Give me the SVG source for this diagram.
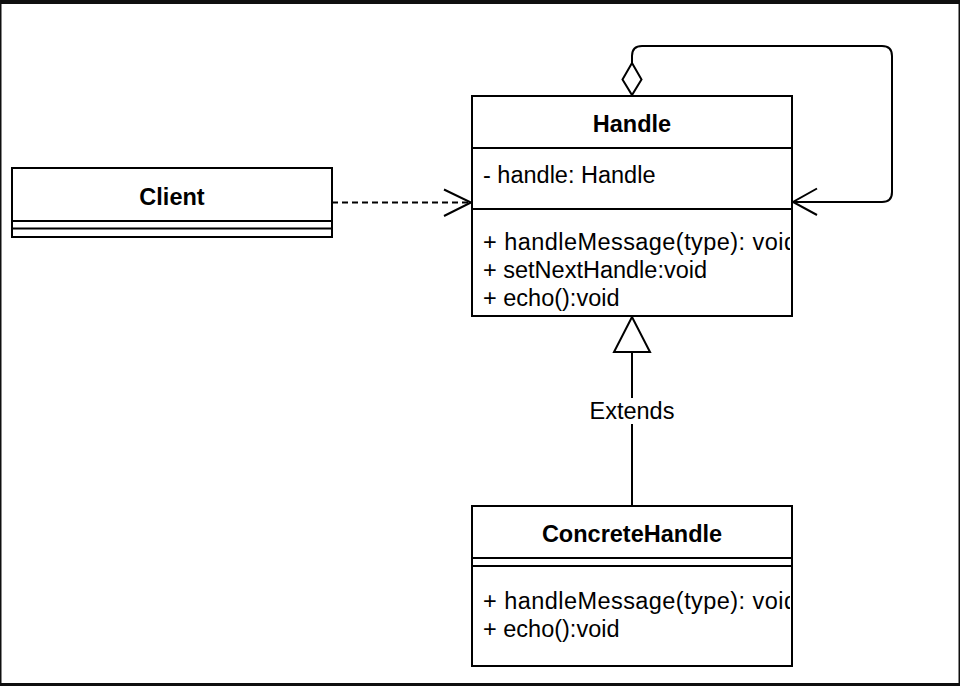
<svg xmlns="http://www.w3.org/2000/svg" width="960" height="686" viewBox="0 0 960 686">
<style>
.box{fill:#fff;stroke:#000;stroke-width:2}
.ln{fill:none;stroke:#000;stroke-width:2}
.t{font-family:"Liberation Sans",Arial,Helvetica,sans-serif;font-size:23.5px;fill:#000}
.b{font-weight:bold;text-anchor:middle}
.frame{fill:#0f0f0f}
</style>
<defs>
<clipPath id="clipH"><rect x="473" y="210" width="317" height="105"/></clipPath>
<clipPath id="clipC"><rect x="473" y="567" width="317" height="98"/></clipPath>
</defs>
<rect width="960" height="686" fill="#fff"/>
<rect class="frame" x="0" y="0" width="960" height="4"/>
<rect class="frame" x="0" y="683" width="960" height="3"/>
<rect class="frame" x="0" y="0" width="1.5" height="686"/>
<rect class="frame" x="958.5" y="0" width="1.5" height="686"/>

<g id="connectors">
  <!-- dependency Client -> Handle -->
  <line class="ln" x1="332" y1="202.5" x2="470" y2="202.5" stroke-dasharray="6 4"/>
  <polyline class="ln" points="444,189.5 471,202.5 444,216"/>
  <!-- self aggregation -->
  <path class="ln" d="M632,63 L632,56 Q632,46 642,46 L882,46 Q892,46 892,56 L892,192 Q892,202 882,202 L793,202"/>
  <polygon class="ln" fill="#fff" points="632,63 641.5,79.5 632,95 622.5,79.5"/>
  <polyline class="ln" points="817,188.5 793,202 817,215"/>
  <!-- inheritance -->
  <line class="ln" x1="632" y1="352" x2="632" y2="398"/>
  <line class="ln" x1="632" y1="424" x2="632" y2="506"/>
  <polygon class="ln" fill="#fff" points="632,317 650,352 614,352"/>
  <text class="t" x="632" y="419" text-anchor="middle">Extends</text>
</g>

<g id="client">
  <rect class="box" x="12" y="168" width="320" height="69"/>
  <line class="ln" x1="12" y1="221" x2="332" y2="221"/>
  <line class="ln" x1="12" y1="228.5" x2="332" y2="228.5"/>
  <text class="t b" x="172" y="205">Client</text>
</g>

<g id="handle">
  <rect class="box" x="472" y="96" width="320" height="220"/>
  <line class="ln" x1="472" y1="148" x2="792" y2="148"/>
  <line class="ln" x1="472" y1="209" x2="792" y2="209"/>
  <text class="t b" x="632" y="132">Handle</text>
  <text class="t" x="483" y="183">- handle: Handle</text>
  <g clip-path="url(#clipH)">
    <text class="t" x="483" y="249.5" textLength="314" lengthAdjust="spacing">+ handleMessage(type): void</text>
    <text class="t" x="483" y="277.5">+ setNextHandle:void</text>
    <text class="t" x="483" y="305.5">+ echo():void</text>
  </g>
</g>

<g id="concreteHandle">
  <rect class="box" x="472" y="506" width="320" height="160"/>
  <line class="ln" x1="472" y1="558" x2="792" y2="558"/>
  <line class="ln" x1="472" y1="566" x2="792" y2="566"/>
  <text class="t b" x="632" y="542">ConcreteHandle</text>
  <g clip-path="url(#clipC)">
    <text class="t" x="483" y="609" textLength="314" lengthAdjust="spacing">+ handleMessage(type): void</text>
    <text class="t" x="483" y="637">+ echo():void</text>
  </g>
</g>
</svg>
